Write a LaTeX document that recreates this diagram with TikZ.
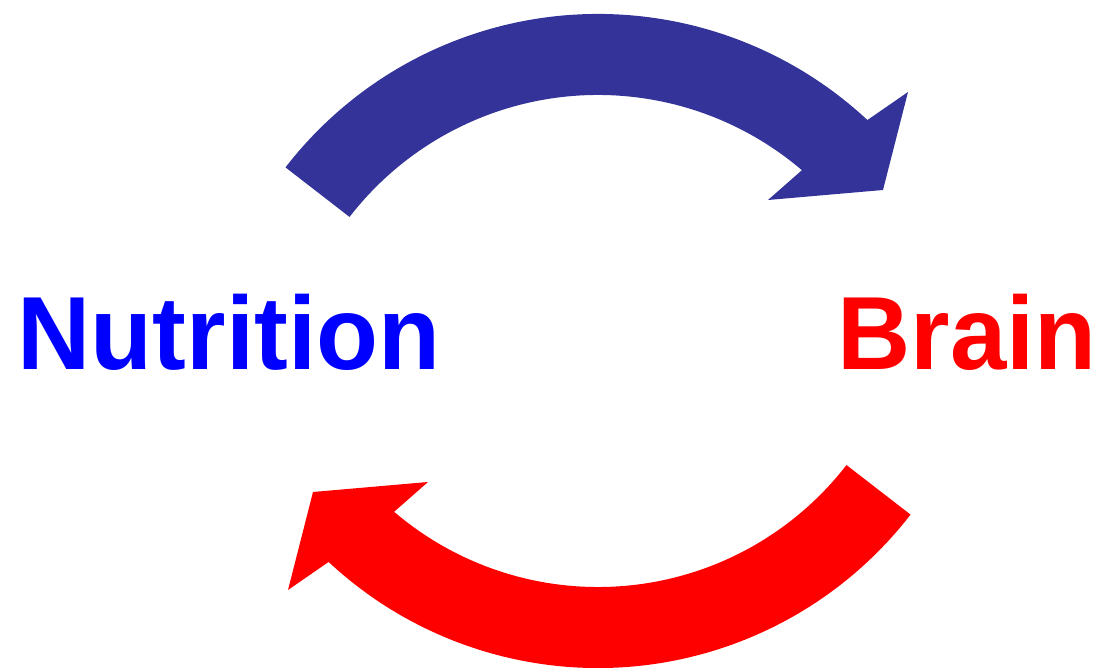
\documentclass[tikz,border=0pt]{standalone}
\usepackage{fontspec}
\setmainfont[FakeStretch=0.975]{Liberation Sans}
\definecolor{arrowblue}{RGB}{51,51,153}
\tikzset{word/.style={font=\bfseries\fontsize{104}{104}\selectfont,inner sep=0pt,anchor=base west}}
\newcommand{\cyclearrow}{(285.5,500.6) arc[start angle=142.3,end angle=47,radius=395] -- (908,576) -- (883,478) -- (768,468) -- (801.9,497.8) arc[start angle=49.5,end angle=142.3,radius=314] -- cycle}
\begin{document}
\begin{tikzpicture}[x=1pt,y=1pt]
	\useasboundingbox (0,0) rectangle (1097,668);
	% upper arrow
	\fill[arrowblue] \cyclearrow;
	% lower arrow, same shape turned round
	\begin{scope}[rotate around={180:(598,327)}]
		\fill[red] \cyclearrow;
	\end{scope}
	\node[word,text=blue] (nutrition) at (17.5,298) {Nutrition};
	\node[word,text=red] (brain) at (837.5,298) {Brain};
\end{tikzpicture}
\end{document}
